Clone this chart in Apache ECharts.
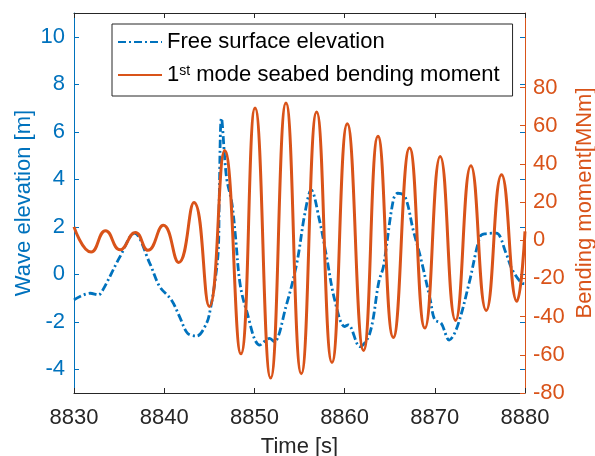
<!DOCTYPE html>
<html>
<head>
<meta charset="utf-8">
<script src="https://cdn.jsdelivr.net/npm/echarts@6/dist/echarts.min.js"></script>
<style>html,body{margin:0;padding:0;background:#fff;}#c{width:595px;height:456px;}</style>
</head>
<body>
<div id="c"></div>
<script>
// Free surface elevation [m]
const waveTime = [8830.0, 8831.8, 8832.7, 8833.2, 8835.1, 8836.7, 8838.4, 8839.5, 8840.8, 8841.7, 8842.6, 8843.6, 8844.7, 8845.1, 8845.6, 8846.0, 8846.1, 8846.35, 8846.9, 8847.5, 8847.9, 8848.4, 8849.1, 8850.6, 8851.7, 8852.2, 8853.5, 8854.7, 8855.6, 8856.3, 8857.2, 8858.0, 8858.9, 8860.0, 8860.4, 8861.7, 8862.8, 8863.8, 8864.3, 8865.4, 8865.9, 8866.7, 8867.6, 8868.4, 8869.5, 8870.0, 8870.7, 8871.6, 8872.5, 8873.8, 8875.0, 8875.5, 8876.8, 8877.9, 8878.6, 8879.7, 8880.0];
const waveValue = [-1.08, -0.8, -0.87, -0.66, 0.74, 1.73, 0.46, -0.52, -1.08, -1.78, -2.49, -2.6, -2.06, -1.5, -0.38, 1.02, 3.13, 6.57, 4.1, 3.0, 1.6, -0.38, -1.5, -2.98, -2.7, -2.84, -1.36, 0.46, 2.57, 3.55, 2.3, 0.74, -1.08, -2.2, -2.13, -3.05, -2.48, -0.31, 0.32, 3.13, 3.41, 3.27, 1.87, 0.74, -1.08, -1.92, -2.06, -2.77, -2.2, -0.38, 1.58, 1.7, 1.73, 0.88, 0.18, -0.38, -0.4];
// 1st mode seabed bending moment [MNm]
const momentTime = [8830.0, 8831.9, 8833.5, 8835.1, 8836.8, 8838.2, 8839.9, 8841.6, 8843.3, 8845.0, 8846.7, 8848.5, 8850.07, 8851.8, 8853.5, 8855.2, 8856.9, 8858.6, 8860.3, 8862.1, 8863.7, 8865.4, 8867.2, 8868.9, 8870.6, 8872.3, 8874.0, 8875.7, 8877.4, 8879.1, 8880.0];
const momentValue = [7.0, -6.2, 5.0, -5.0, 4.1, -5.3, 7.8, -11.6, 19.8, -34.7, 47.0, -59.5, 69.2, -72.2, 71.9, -69.9, 67.2, -64.0, 61.0, -57.7, 54.4, -50.9, 48.3, -46.0, 43.9, -42.0, 39.0, -36.8, 34.3, -32.0, 4.6];
// tick labels
const xTicks = [8830, 8840, 8850, 8860, 8870, 8880];
const leftTicks = [-4, -2, 0, 2, 4, 6, 8, 10];
const rightTicks = [-80, -60, -40, -20, 0, 20, 40, 60, 80];

const BLUE = '#0072BD', ORANGE = '#D95319', DARK = '#262626';
const FONT = 'Liberation Sans, Arial, sans-serif';
const WAVE_NAME = 'Free surface elevation';
const MOM_NAME = '1st mode seabed bending moment';

const chart = echarts.init(document.getElementById('c'), null, {renderer: 'canvas'});
const xCommon = {
  type: 'value', min: 8830, max: 8880, interval: 10,
  splitLine: {show: false}
};
chart.setOption({
  animation: false,
  backgroundColor: '#fff',
  grid: {left: 74, right: 70, top: 13, bottom: 63, containLabel: false, outerBoundsMode: 'none'},
  legend: {
    left: 112, top: 24, orient: 'vertical',
    itemWidth: 44, itemHeight: 14, itemGap: 11,
    padding: [7, 13, 5, 5],
    borderColor: DARK, borderWidth: 1, backgroundColor: '#fff',
    data: [WAVE_NAME, MOM_NAME],
    itemStyle: {opacity: 0, borderWidth: 0},
    textStyle: {fontSize: 22, color: '#000', fontFamily: FONT,
      rich: {sup: {fontSize: 14, fontFamily: FONT, color: '#000', verticalAlign: 'top', lineHeight: 14, padding: [0, 0, 13, 0]}}},
    formatter: function (name) { return name === MOM_NAME ? '1{sup|st} mode seabed bending moment' : name; }
  },
  xAxis: [
    Object.assign({}, xCommon, {
      position: 'bottom',
      name: 'Time [s]', nameLocation: 'middle', nameGap: 43, nameMoveOverlap: false,
      nameTextStyle: {fontSize: 22, color: DARK, fontFamily: FONT},
      axisLine: {show: true, onZero: false, lineStyle: {color: DARK, width: 1}},
      axisTick: {show: true, inside: true, length: 5, lineStyle: {color: DARK}},
      axisLabel: {fontSize: 22, color: DARK, fontFamily: FONT, margin: 14, customValues: xTicks,
        formatter: function (v) { return String(v); }}
    }),
    Object.assign({}, xCommon, {
      position: 'top',
      axisLine: {show: true, onZero: false, lineStyle: {color: DARK, width: 1}},
      axisTick: {show: true, inside: true, length: 5, lineStyle: {color: DARK}},
      axisLabel: {show: false}
    })
  ],
  yAxis: [
    {
      type: 'value', min: -5, max: 11, position: 'left',
      name: 'Wave elevation [m]', nameLocation: 'middle', nameGap: 39, nameRotate: 90, nameMoveOverlap: false,
      nameTextStyle: {fontSize: 22, color: BLUE, fontFamily: FONT},
      splitLine: {show: false},
      axisLine: {show: true, onZero: false, lineStyle: {color: BLUE, width: 1}},
      axisTick: {show: true, inside: true, length: 5, customValues: leftTicks, lineStyle: {color: BLUE}},
      axisLabel: {fontSize: 22, color: BLUE, fontFamily: FONT, margin: 9, customValues: leftTicks}
    },
    {
      type: 'value', min: -80, max: 119, position: 'right',
      name: 'Bending moment[MNm]', nameLocation: 'middle', nameGap: 49, nameRotate: 90, nameMoveOverlap: false,
      nameTextStyle: {fontSize: 22, color: ORANGE, fontFamily: FONT},
      splitLine: {show: false},
      axisLine: {show: true, onZero: false, lineStyle: {color: ORANGE, width: 1}},
      axisTick: {show: true, inside: true, length: 5, customValues: rightTicks, lineStyle: {color: ORANGE}},
      axisLabel: {fontSize: 22, color: ORANGE, fontFamily: FONT, margin: 8, customValues: rightTicks}
    },
    {
      type: 'value', min: -5, max: 11, position: 'right', offset: 0,
      splitLine: {show: false},
      axisLine: {show: false, onZero: false},
      axisTick: {show: true, inside: true, length: 5, customValues: leftTicks, lineStyle: {color: BLUE}},
      axisLabel: {show: false}
    }
  ],
  series: [
    {
      name: WAVE_NAME, type: 'line', xAxisIndex: 0, yAxisIndex: 0,
      data: waveTime.map((t, i) => [t, waveValue[i]]),
      showSymbol: false, symbol: 'none', smooth: 0.35,
      lineStyle: {color: BLUE, width: 2.8, type: [8, 3, 2, 3]},
      itemStyle: {color: BLUE}
    },
    {
      name: MOM_NAME, type: 'line', xAxisIndex: 0, yAxisIndex: 1,
      data: momentTime.map((t, i) => [t, momentValue[i]]),
      showSymbol: false, symbol: 'none', smooth: 0.5,
      lineStyle: {color: ORANGE, width: 3},
      itemStyle: {color: ORANGE}
    }
  ]
});
</script>
</body>
</html>
